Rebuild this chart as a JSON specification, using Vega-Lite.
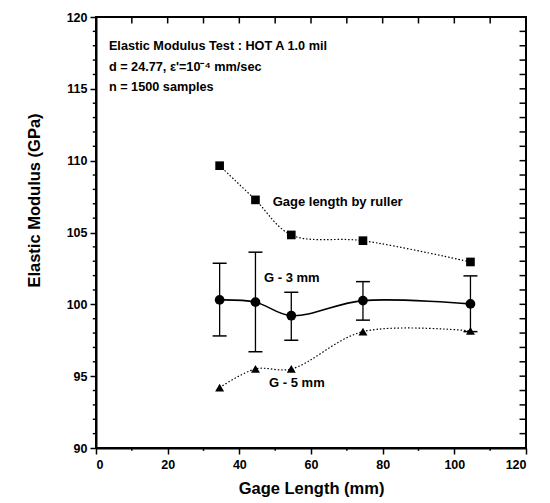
{
  "$schema": "https://vega.github.io/schema/vega-lite/v6.json",
  "width": 430,
  "height": 431,
  "autosize": "none",
  "padding": {"left": 96, "top": 17, "right": 24, "bottom": 55},
  "background": "white",
  "config": {
    "view": {"stroke": "black", "strokeWidth": 2},
    "font": "Liberation Sans",
    "scale": {"zero": false, "nice": false},
    "axis": {"grid": false, "domainColor": "black", "tickColor": "black", "labelColor": "black", "titleColor": "black", "domainWidth": 2, "tickWidth": 1.5, "labelFont": "Liberation Sans", "titleFont": "Liberation Sans", "labelFontWeight": "bold", "titleFontWeight": "bold", "labelFontSize": 12.5, "titleFontSize": 16.5}
  },
  "datasets": {
    "ruler": [
      {"gage": 34.5, "modulus": 109.65},
      {"gage": 44.5, "modulus": 107.27},
      {"gage": 54.5, "modulus": 104.83},
      {"gage": 74.5, "modulus": 104.43},
      {"gage": 104.5, "modulus": 102.95}
    ],
    "g3": [
      {"gage": 34.5, "modulus": 100.31, "low": 97.8, "high": 102.86},
      {"gage": 44.5, "modulus": 100.15, "low": 96.7, "high": 103.63},
      {"gage": 54.5, "modulus": 99.21, "low": 97.5, "high": 100.84},
      {"gage": 74.5, "modulus": 100.26, "low": 98.9, "high": 101.58},
      {"gage": 104.5, "modulus": 100.03, "low": 98.1, "high": 101.98}
    ],
    "g5": [
      {"gage": 34.5, "modulus": 94.2},
      {"gage": 44.5, "modulus": 95.5},
      {"gage": 54.5, "modulus": 95.5},
      {"gage": 74.5, "modulus": 98.1},
      {"gage": 104.5, "modulus": 98.15}
    ],
    "labels": [
      {"gage": 49.3, "modulus": 107.1, "text": "Gage length by ruller"},
      {"gage": 46.9, "modulus": 101.84, "text": "G - 3 mm"},
      {"gage": 48.3, "modulus": 94.53, "text": "G - 5 mm"}
    ],
    "notes": [
      {"gage": 3.6, "modulus": 117.98, "text": "Elastic Modulus Test : HOT A 1.0 mil"},
      {"gage": 3.6, "modulus": 116.52, "text": "d = 24.77, ε'=10⁻⁴ mm/sec"},
      {"gage": 3.6, "modulus": 115.13, "text": "n = 1500 samples"}
    ],
    "xTicks": [
      {"gage": 0, "kind": "major"}, {"gage": 10, "kind": "minor"}, {"gage": 20, "kind": "major"}, {"gage": 30, "kind": "minor"},
      {"gage": 40, "kind": "major"}, {"gage": 50, "kind": "minor"}, {"gage": 60, "kind": "major"}, {"gage": 70, "kind": "minor"},
      {"gage": 80, "kind": "major"}, {"gage": 90, "kind": "minor"}, {"gage": 100, "kind": "major"}, {"gage": 110, "kind": "minor"},
      {"gage": 120, "kind": "major"}
    ],
    "yTicks": [
      {"modulus": 90, "kind": "major"}, {"modulus": 91, "kind": "minor"}, {"modulus": 92, "kind": "minor"}, {"modulus": 93, "kind": "minor"}, {"modulus": 94, "kind": "minor"},
      {"modulus": 95, "kind": "major"}, {"modulus": 96, "kind": "minor"}, {"modulus": 97, "kind": "minor"}, {"modulus": 98, "kind": "minor"}, {"modulus": 99, "kind": "minor"},
      {"modulus": 100, "kind": "major"}, {"modulus": 101, "kind": "minor"}, {"modulus": 102, "kind": "minor"}, {"modulus": 103, "kind": "minor"}, {"modulus": 104, "kind": "minor"},
      {"modulus": 105, "kind": "major"}, {"modulus": 106, "kind": "minor"}, {"modulus": 107, "kind": "minor"}, {"modulus": 108, "kind": "minor"}, {"modulus": 109, "kind": "minor"},
      {"modulus": 110, "kind": "major"}, {"modulus": 111, "kind": "minor"}, {"modulus": 112, "kind": "minor"}, {"modulus": 113, "kind": "minor"}, {"modulus": 114, "kind": "minor"},
      {"modulus": 115, "kind": "major"}, {"modulus": 116, "kind": "minor"}, {"modulus": 117, "kind": "minor"}, {"modulus": 118, "kind": "minor"}, {"modulus": 119, "kind": "minor"},
      {"modulus": 120, "kind": "major"}
    ]
  },
  "layer": [
    {
      "data": {"name": "ruler"},
      "mark": {"type": "line", "interpolate": "catmull-rom", "color": "black", "strokeWidth": 1.2, "strokeDash": [1.5, 2]},
      "encoding": {
        "x": {"field": "gage", "type": "quantitative", "scale": {"domain": [0, 120]}, "axis": {"orient": "bottom", "values": [0, 20, 40, 60, 80, 100, 120], "tickSize": 6, "labelPadding": 4, "title": "Gage Length (mm)", "titlePadding": 10}},
        "y": {"field": "modulus", "type": "quantitative", "scale": {"domain": [90, 120]}, "axis": {"orient": "left", "values": [90, 95, 100, 105, 110, 115, 120], "tickSize": 6, "labelPadding": 3, "title": "Elastic Modulus (GPa)", "titlePadding": 24, "titleY": 183}}
      }
    },
    {
      "data": {"name": "ruler"},
      "mark": {"type": "square", "color": "black", "filled": true, "opacity": 1, "size": 75},
      "encoding": {
        "x": {"field": "gage", "type": "quantitative"},
        "y": {"field": "modulus", "type": "quantitative"}
      }
    },
    {
      "data": {"name": "g3"},
      "mark": {"type": "line", "interpolate": "catmull-rom", "color": "black", "strokeWidth": 1.6},
      "encoding": {
        "x": {"field": "gage", "type": "quantitative"},
        "y": {"field": "modulus", "type": "quantitative"}
      }
    },
    {
      "data": {"name": "g3"},
      "mark": {"type": "circle", "color": "black", "opacity": 1, "size": 95},
      "encoding": {
        "x": {"field": "gage", "type": "quantitative"},
        "y": {"field": "modulus", "type": "quantitative"}
      }
    },
    {
      "data": {"name": "g3"},
      "mark": {"type": "rule", "color": "black", "strokeWidth": 1.3},
      "encoding": {
        "x": {"field": "gage", "type": "quantitative"},
        "y": {"field": "low", "type": "quantitative"},
        "y2": {"field": "high"}
      }
    },
    {
      "data": {"name": "g3"},
      "mark": {"type": "tick", "orient": "horizontal", "color": "black", "size": 14, "thickness": 1.5, "opacity": 1},
      "encoding": {
        "x": {"field": "gage", "type": "quantitative"},
        "y": {"field": "low", "type": "quantitative"}
      }
    },
    {
      "data": {"name": "g3"},
      "mark": {"type": "tick", "orient": "horizontal", "color": "black", "size": 14, "thickness": 1.5, "opacity": 1},
      "encoding": {
        "x": {"field": "gage", "type": "quantitative"},
        "y": {"field": "high", "type": "quantitative"}
      }
    },
    {
      "data": {"name": "g5"},
      "mark": {"type": "line", "interpolate": "catmull-rom", "color": "black", "strokeWidth": 1.2, "strokeDash": [1.5, 2]},
      "encoding": {
        "x": {"field": "gage", "type": "quantitative"},
        "y": {"field": "modulus", "type": "quantitative"}
      }
    },
    {
      "data": {"name": "g5"},
      "mark": {"type": "point", "shape": "triangle-up", "filled": true, "color": "black", "opacity": 1, "size": 80},
      "encoding": {
        "x": {"field": "gage", "type": "quantitative"},
        "y": {"field": "modulus", "type": "quantitative"}
      }
    },
    {
      "data": {"name": "xTicks"},
      "mark": {"type": "rule", "color": "black", "strokeWidth": 1.5},
      "encoding": {
        "x": {"field": "gage", "type": "quantitative"},
        "y": {"datum": 120, "type": "quantitative"},
        "y2": {"datum": 119.55}
      }
    },
    {
      "data": {"name": "xTicks"},
      "transform": [{"filter": "datum.kind === 'minor'"}],
      "mark": {"type": "rule", "color": "black", "strokeWidth": 1.5},
      "encoding": {
        "x": {"field": "gage", "type": "quantitative"},
        "y": {"datum": 90, "type": "quantitative"},
        "y2": {"datum": 89.8}
      }
    },
    {
      "data": {"name": "yTicks"},
      "mark": {"type": "rule", "color": "black", "strokeWidth": 1.5},
      "encoding": {
        "y": {"field": "modulus", "type": "quantitative"},
        "x": {"datum": 120, "type": "quantitative"},
        "x2": {"datum": 118.2}
      }
    },
    {
      "data": {"name": "yTicks"},
      "transform": [{"filter": "datum.kind === 'minor'"}],
      "mark": {"type": "rule", "color": "black", "strokeWidth": 1.4},
      "encoding": {
        "y": {"field": "modulus", "type": "quantitative"},
        "x": {"datum": 0, "type": "quantitative"},
        "x2": {"datum": -0.9}
      }
    },
    {
      "data": {"name": "labels"},
      "mark": {"type": "text", "align": "left", "baseline": "middle", "font": "Liberation Sans", "fontSize": 13, "fontWeight": "bold", "color": "black"},
      "encoding": {
        "x": {"field": "gage", "type": "quantitative"},
        "y": {"field": "modulus", "type": "quantitative"},
        "text": {"field": "text"}
      }
    },
    {
      "data": {"name": "notes"},
      "mark": {"type": "text", "align": "left", "baseline": "middle", "font": "Liberation Sans", "fontSize": 12.7, "fontWeight": "bold", "color": "black"},
      "encoding": {
        "x": {"field": "gage", "type": "quantitative"},
        "y": {"field": "modulus", "type": "quantitative"},
        "text": {"field": "text"}
      }
    }
  ]
}
